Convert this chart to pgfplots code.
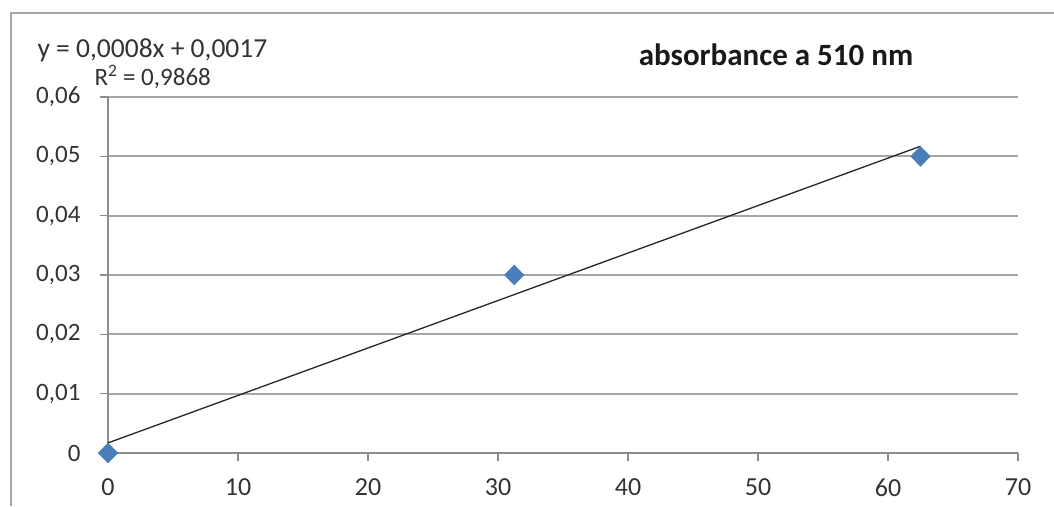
\documentclass[border=0pt]{standalone}
\usepackage{pgfplots}
\pgfplotsset{compat=1.18}
\usepackage{fontspec}
\setmainfont{Carlito}
\definecolor{gridc}{HTML}{A6A6A6}
\definecolor{axc}{HTML}{8C8C8C}
\definecolor{markc}{HTML}{4A7EBB}
\begin{document}
\begin{tikzpicture}
\path[use as bounding box] (0pt,0pt) rectangle (1054pt,506pt);
\draw[gray!70, line width=1.5pt] (11pt,0pt) -- (11pt,493pt) -- (1054pt,493pt);
\begin{axis}[
  at={(108pt,53pt)}, anchor=south west,
  scale only axis, width=910pt, height=356pt,
  xmin=0, xmax=70, ymin=0, ymax=0.06,
  scaled y ticks=false, scaled x ticks=false,
  axis x line*=bottom, axis y line*=left,
  axis line style={axc, line width=1.5pt, -},
  xtick={0,10,...,70},
  xticklabels={0,10,20,30,40,50,60,70},
  ytick={0,0.01,0.02,0.03,0.04,0.05,0.06},
  yticklabels={0,{0,01},{0,02},{0,03},{0,04},{0,05},{0,06}},
  tick style={axc, line width=1.2pt},
  tick align=outside, major tick length=8pt,
  ymajorgrids, grid style={gridc, line width=1.8pt},
  ticklabel style={text=black!80},
  xticklabel style={font=\fontsize{26}{28}\selectfont, yshift=-14pt},
  yticklabel style={font=\fontsize{25}{28}\selectfont, xshift=-16pt},
  clip=false,
]
\addplot[black!85, line width=1.3pt] coordinates {(0,0.0017) (62.5,0.0517)};
\addplot[only marks, mark=diamond*, mark size=10pt, mark options={fill=markc, draw=markc, xscale=1.3}] coordinates {(0,0) (31.25,0.03) (62.5,0.05)};
\end{axis}
\node[anchor=west, font=\fontsize{27.5}{30}\selectfont, text=black!80] at (34pt,456pt) {y = 0,0008x + 0,0017};
\node[anchor=west, font=\fontsize{25}{28}\selectfont, text=black!80] at (91pt,429pt) {R\textsuperscript{2} = 0,9868};
\node[font=\bfseries\fontsize{31}{34}\selectfont, text=black!90] at (776pt,451pt) {absorbance a 510 nm};
\end{tikzpicture}
\end{document}
